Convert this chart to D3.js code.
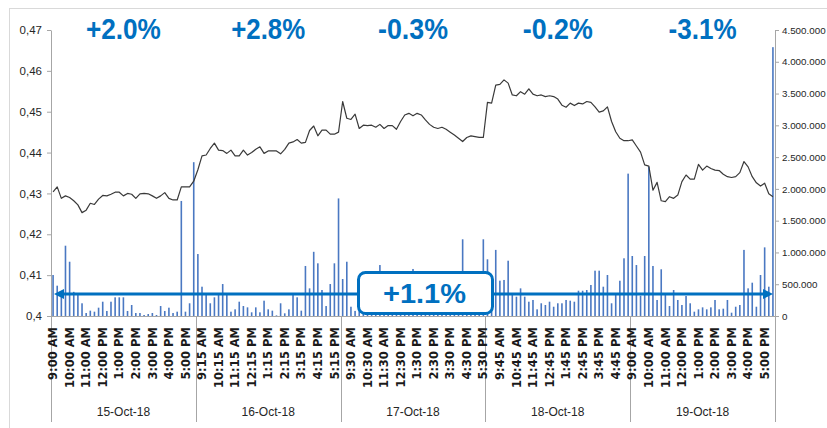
<!DOCTYPE html>
<html>
<head>
<meta charset="utf-8">
<script src="https://cdn.jsdelivr.net/npm/d3@7"></script>
<style>
  html, body { margin: 0; padding: 0; background: #fff; }
  svg { display: block; }
</style>
</head>
<body>
<svg id="chart" width="827" height="428"></svg>
<script>
// ---------------- DATA ----------------
const days = ["15-Oct-18", "16-Oct-18", "17-Oct-18", "18-Oct-18", "19-Oct-18"];
const slotTimes = [
  "9:00 AM","9:15 AM","9:30 AM","9:45 AM","10:00 AM","10:15 AM","10:30 AM","10:45 AM",
  "11:00 AM","11:15 AM","11:30 AM","11:45 AM","12:00 PM","12:15 PM","12:30 PM","12:45 PM",
  "1:00 PM","1:15 PM","1:30 PM","1:45 PM","2:00 PM","2:15 PM","2:30 PM","2:45 PM",
  "3:00 PM","3:15 PM","3:30 PM","3:45 PM","4:00 PM","4:15 PM","4:30 PM","4:45 PM",
  "5:00 PM","5:15 PM","5:30 PM"
];
// share price (left axis), one value per 15-minute slot
const price = [
  // 15-Oct
  0.4304,0.4316,0.4288,0.4294,0.4290,0.4282,0.4272,0.4253,0.4259,0.4276,0.4273,0.4286,0.4295,0.4294,0.4298,
  0.4303,0.4303,0.4294,0.4300,0.4298,0.4288,0.4299,0.4300,0.4299,0.4294,0.4288,0.4294,0.4302,0.4288,0.4284,
  0.4284,0.4316,0.4316,0.4316,0.4330,
  // 16-Oct
  0.4358,0.4392,0.4394,0.4410,0.4423,0.4406,0.4405,0.4398,0.4406,0.4392,0.4392,0.4406,0.4394,0.4400,0.4408,
  0.4414,0.4398,0.4404,0.4404,0.4404,0.4397,0.4408,0.4423,0.4426,0.4432,0.4423,0.4425,0.4454,0.4465,0.4441,
  0.4455,0.4455,0.4445,0.4445,0.4450,
  // 17-Oct
  0.4525,0.4484,0.4481,0.4494,0.4459,0.4467,0.4466,0.4467,0.4462,0.4469,0.4459,0.4466,0.4466,0.4457,0.4476,
  0.4492,0.4496,0.4490,0.4496,0.4492,0.4480,0.4469,0.4462,0.4459,0.4462,0.4457,0.4450,0.4443,0.4435,0.4427,
  0.4437,0.4441,0.4439,0.4437,0.4437,
  // 18-Oct
  0.4523,0.4521,0.4565,0.4567,0.4578,0.4570,0.4541,0.4539,0.4549,0.4543,0.4556,0.4543,0.4539,0.4541,0.4537,
  0.4539,0.4537,0.4531,0.4516,0.4511,0.4521,0.4515,0.4521,0.4519,0.4525,0.4523,0.4512,0.4499,0.4502,0.4512,
  0.4476,0.4451,0.4435,0.4429,0.4429,
  // 19-Oct
  0.4431,0.4416,0.4401,0.4370,0.4367,0.4308,0.4327,0.4282,0.4280,0.4292,0.4288,0.4296,0.4329,0.4345,0.4335,
  0.4335,0.4371,0.4357,0.4367,0.4361,0.4357,0.4356,0.4347,0.4341,0.4339,0.4341,0.4351,0.4378,0.4365,0.4341,
  0.4326,0.4318,0.4325,0.4299,0.4292
];
// traded volume in thousands (right axis)
const volumeK = [
  // 15-Oct
  645,477,380,1106,854,380,360,200,47,84,68,131,225,79,225,294,294,294,79,173,
  47,47,16,31,47,16,157,79,131,47,68,1810,68,200,2420,
  // 16-Oct
  975,461,330,200,294,330,503,330,68,105,225,157,136,58,136,58,241,105,84,10,
  200,42,105,330,294,84,787,435,1010,829,409,157,503,829,1850,
  // 17-Oct
  582,854,146,80,150,260,120,300,210,802,180,250,120,320,200,150,280,740,250,180,
  300,150,220,350,200,400,250,300,450,1207,600,350,500,400,1207,
  // 18-Oct
  892,400,1040,556,567,870,330,304,435,304,225,252,105,200,173,225,146,200,200,252,
  241,225,398,398,409,488,713,713,461,645,200,340,555,908,2240,
  // 19-Oct
  944,802,320,944,2350,787,252,735,330,157,409,252,173,315,200,68,105,136,105,136,
  252,105,115,252,52,146,173,1040,435,524,146,645,1080,461,4230
];
const dayChanges = ["+2.0%", "+2.8%", "-0.3%", "-0.2%", "-3.1%"];
const weekChange = "+1.1%";
const leftTicks = [0.40, 0.41, 0.42, 0.43, 0.44, 0.45, 0.46, 0.47];
const leftTickLabels = ["0,4", "0,41", "0,42", "0,43", "0,44", "0,45", "0,46", "0,47"];
const rightTicks = [0, 500, 1000, 1500, 2000, 2500, 3000, 3500, 4000, 4500];
const rightTickLabels = ["0", "500.000", "1.000.000", "1.500.000", "2.000.000", "2.500.000",
                         "3.000.000", "3.500.000", "4.000.000", "4.500.000"];

// ---------------- LAYOUT / STYLE ----------------
const L = { left: 51, right: 775, top: 30, bottom: 316, sepBottom: 422 };
const C = {
  axis: "#a6a6a6", text: "#262626", line: "#3a3a3a",
  bar: "#4a78c2", accent: "#0070C0", frame: "#d9d9d9"
};
const labelEvery = 4;

const svg = d3.select("#chart");

// categories
const cats = [];
days.forEach((d, di) => slotTimes.forEach((t, ti) => cats.push({ day: d, di, time: t, i: cats.length })));

const x = d3.scaleBand().domain(d3.range(cats.length)).range([L.left, L.right]).padding(0);
const yL = d3.scaleLinear().domain([0.40, 0.47]).range([L.bottom, L.top]);
const yR = d3.scaleLinear().domain([0, 4500]).range([L.bottom, L.top]);

// frame
svg.append("rect").attr("x", 9.5).attr("y", 8.5).attr("width", 840).attr("height", 440)
  .attr("fill", "none").attr("stroke", C.frame).attr("stroke-width", 1);

// bars (volume)
const barW = 1.6;
svg.append("g").selectAll("rect").data(volumeK).join("rect")
  .attr("x", (d, i) => x(i) + x.bandwidth() / 2 - barW / 2)
  .attr("y", d => yR(d))
  .attr("width", barW)
  .attr("height", d => yR(0) - yR(d))
  .attr("fill", C.bar);

// price line
svg.append("path").datum(price)
  .attr("fill", "none").attr("stroke", C.line).attr("stroke-width", 1.2)
  .attr("stroke-linejoin", "round")
  .attr("d", d3.line().x((d, i) => x(i) + x.bandwidth() / 2).y(d => yL(d)));

// left axis
const gL = svg.append("g").attr("transform", `translate(${L.left},0)`)
  .call(d3.axisLeft(yL).tickValues(leftTicks).tickSize(4).tickSizeOuter(0)
    .tickFormat((d, i) => leftTickLabels[i]));
gL.selectAll("path, line").attr("stroke", C.axis);
gL.selectAll("text").attr("fill", C.text).attr("font-family", "Liberation Sans, Arial, sans-serif")
  .attr("font-size", 11.5).attr("x", -9);

// right axis
const gR = svg.append("g").attr("transform", `translate(${L.right},0)`)
  .call(d3.axisRight(yR).tickValues(rightTicks).tickSize(4).tickSizeOuter(0)
    .tickFormat((d, i) => rightTickLabels[i]));
gR.selectAll("path, line").attr("stroke", C.axis);
gR.selectAll("text").attr("fill", C.text).attr("font-family", "Liberation Sans, Arial, sans-serif")
  .attr("font-size", 9.8).attr("x", 7);

// category axis: baseline + day separators
svg.append("line").attr("x1", L.left).attr("x2", L.right).attr("y1", L.bottom + 0.5).attr("y2", L.bottom + 0.5)
  .attr("stroke", C.axis);
const dayEdges = days.map((d, di) => x(di * slotTimes.length)).concat([L.right]);
svg.append("g").selectAll("line").data(dayEdges).join("line")
  .attr("x1", d => Math.round(d) + 0.5).attr("x2", d => Math.round(d) + 0.5)
  .attr("y1", L.bottom).attr("y2", L.sepBottom)
  .attr("stroke", C.axis);

// time labels
svg.append("g").selectAll("text").data(cats.filter(c => c.i % labelEvery === 0)).join("text")
  .attr("transform", c => `translate(${x(c.i) + x.bandwidth() / 2},${L.bottom + 11}) rotate(-90)`)
  .attr("text-anchor", "end").attr("dy", "0.36em")
  .attr("font-family", "DejaVu Sans, Verdana, sans-serif").attr("font-size", 11.5)
  .attr("font-weight", "bold")
  .attr("fill", "#1a1a1a")
  .text(c => c.time);

// day labels
svg.append("g").selectAll("text").data(days).join("text")
  .attr("x", (d, di) => (dayEdges[di] + dayEdges[di + 1]) / 2)
  .attr("y", 416)
  .attr("text-anchor", "middle")
  .attr("font-family", "Liberation Sans, Arial, sans-serif").attr("font-size", 12)
  .attr("fill", C.text)
  .text(d => d);

// daily change annotations
const topLen = [75, 74, 70, 70, 68];
svg.append("g").selectAll("text").data(dayChanges).join("text")
  .attr("x", (d, di) => (dayEdges[di] + dayEdges[di + 1]) / 2)
  .attr("y", 39)
  .attr("text-anchor", "middle")
  .attr("font-family", "Liberation Sans, Arial, sans-serif").attr("font-weight", "bold")
  .attr("font-size", 29).attr("fill", C.accent)
  .attr("textLength", (d, i) => topLen[i]).attr("lengthAdjust", "spacingAndGlyphs")
  .text(d => d);

// week arrow
const arrowY = 294;
const ax0 = x(0) + 3, ax1 = L.right - 2;
svg.append("line").attr("x1", ax0 + 8).attr("x2", ax1 - 8).attr("y1", arrowY).attr("y2", arrowY)
  .attr("stroke", C.accent).attr("stroke-width", 3);
svg.append("path").attr("fill", C.accent)
  .attr("d", `M${ax0},${arrowY} L${ax0 + 10},${arrowY - 5} L${ax0 + 10},${arrowY + 5} Z`);
svg.append("path").attr("fill", C.accent)
  .attr("d", `M${ax1},${arrowY} L${ax1 - 10},${arrowY - 5} L${ax1 - 10},${arrowY + 5} Z`);

// week change box
const boxCx = 425.5;
svg.append("rect").attr("x", boxCx - 67).attr("y", 272.5).attr("width", 134).attr("height", 41)
  .attr("rx", 7).attr("fill", "#fff").attr("stroke", C.accent).attr("stroke-width", 3);
svg.append("text").attr("x", boxCx - 1).attr("y", 303)
  .attr("text-anchor", "middle")
  .attr("font-family", "Liberation Sans, Arial, sans-serif").attr("font-weight", "bold")
  .attr("font-size", 27).attr("fill", C.accent)
  .attr("textLength", 83).attr("lengthAdjust", "spacingAndGlyphs")
  .text(weekChange);
</script>
</body>
</html>
